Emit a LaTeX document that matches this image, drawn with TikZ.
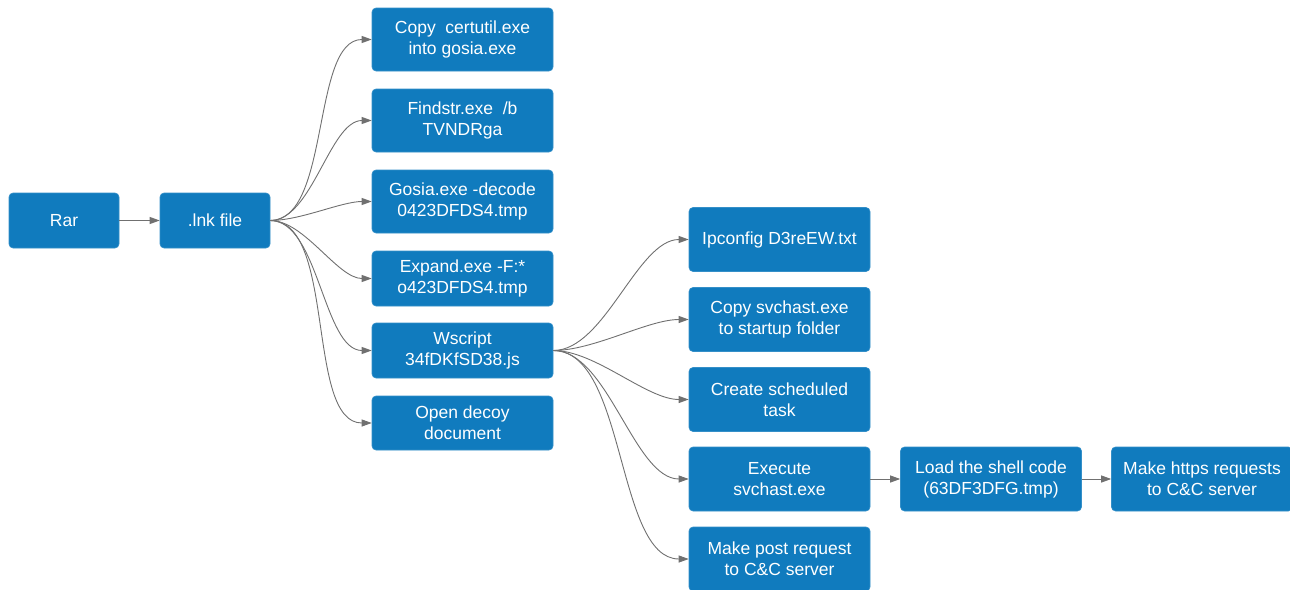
\documentclass[tikz,border=0pt]{standalone}
\usepackage{fontspec}
\setmainfont{Liberation Sans}
\usetikzlibrary{arrows.meta}
\definecolor{boxblue}{RGB}{16,123,190}
\definecolor{linegray}{RGB}{112,112,112}
\begin{document}
\begin{tikzpicture}[x=1pt,y=-1pt,
  box/.style={draw=boxblue!85!white, line width=0.6pt, fill=boxblue, rounded corners=4pt, text=white,
    align=center, font=\fontsize{17.5}{21}\selectfont, inner sep=0pt},
  conn/.style={draw=linegray, line width=0.9pt, -{Triangle[length=10pt,width=7pt]}},
  curve/.style={conn, out=0, in=180, looseness=0.75}]
\useasboundingbox (0,0) rectangle (1290,589);
% left
\node[box, minimum width=110pt, minimum height=55pt] (rar) at (64,220.5) {Rar};
\node[box, minimum width=110pt, minimum height=55pt] (lnk) at (215,220.5) {.lnk file};
% column 1
\node[box, minimum width=181pt, minimum height=63pt] (c1) at (462.5,39.5) {Copy\ \ certutil.exe\\into gosia.exe};
\node[box, minimum width=181pt, minimum height=63pt] (c2) at (462.5,120.5) {Findstr.exe\ \ /b\\TVNDRga};
\node[box, minimum width=181pt, minimum height=63pt] (c3) at (462.5,201.5) {Gosia.exe -decode\\0423DFDS4.tmp};
\node[box, minimum width=181pt, minimum height=55pt] (c4) at (462.5,278.5) {Expand.exe -F:*\\o423DFDS4.tmp};
\node[box, minimum width=181pt, minimum height=55pt] (c5) at (462.5,350.5) {Wscript\\34fDKfSD38.js};
\node[box, minimum width=181pt, minimum height=54pt] (c6) at (462.5,423) {Open decoy\\document};
% column 2
\node[box, minimum width=181pt, minimum height=64pt] (d1) at (779.5,239.5) {Ipconfig D3reEW.txt};
\node[box, minimum width=181pt, minimum height=64pt] (d2) at (779.5,319.5) {Copy svchast.exe\\to startup folder};
\node[box, minimum width=181pt, minimum height=64pt] (d3) at (779.5,399.5) {Create scheduled\\task};
\node[box, minimum width=181pt, minimum height=64pt] (d4) at (779.5,479) {Execute\\svchast.exe};
\node[box, minimum width=181pt, minimum height=64pt] (d5) at (779.5,559) {Make post request\\to C\&C server};
% right
\node[box, minimum width=181pt, minimum height=64pt] (e1) at (991,479) {Load the shell code\\(63DF3DFG.tmp)};
\node[box, minimum width=181pt, minimum height=64pt] (e2) at (1202,479) {Make https requests\\to C\&C server};
% connectors
\draw[conn] (rar) -- (lnk);
\foreach \t in {c1,c2,c3,c4,c5,c6} \draw[curve] (lnk.east) to (\t.west);
\foreach \t in {d1,d2,d3,d4,d5} \draw[curve] (c5.east) to (\t.west);
\draw[conn] (d4) -- (e1);
\draw[conn] (e1) -- (e2);
\end{tikzpicture}
\end{document}
